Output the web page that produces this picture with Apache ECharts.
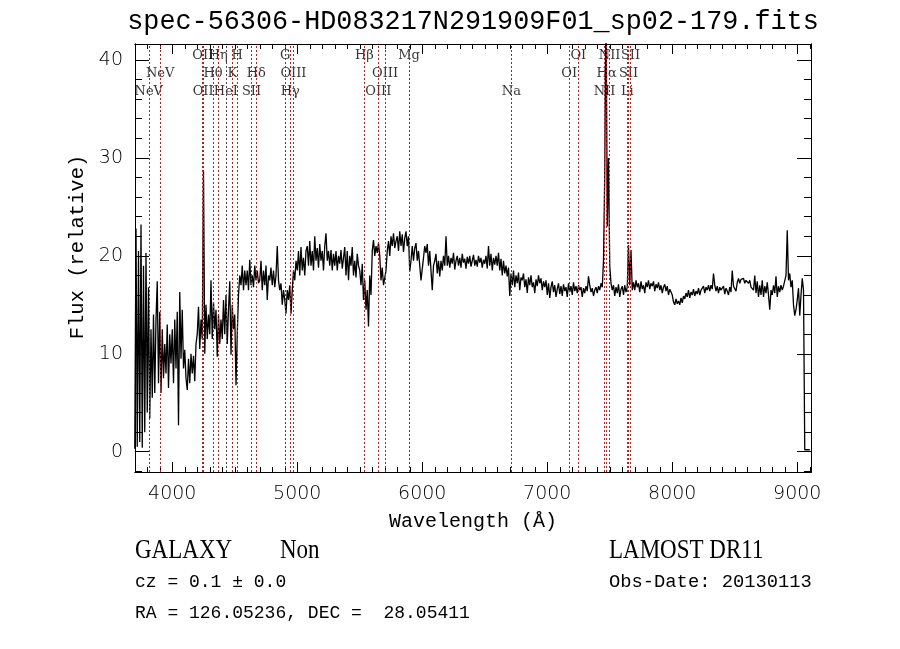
<!DOCTYPE html>
<html lang="en">
<head>
<meta charset="UTF-8">
<title>spec-56306-HD083217N291909F01_sp02-179.fits</title>
<style>
    html, body { margin: 0; padding: 0; background: #fff; }
    #chart { width: 900px; height: 649px; }
</style>
</head>
<body>
<div id="chart"></div>
<script src="https://cdn.jsdelivr.net/npm/echarts@6/dist/echarts.min.js"></script>
<script>
// flux, one value every 10 A starting at 3700 A
var waveStart = 3700;
var waveStep = 10;
var flux = [
    0.3, 22.8, 0.5, 20.5, 1.0, 23.2, 0.4, 19.0, 2.0, 20.3,      // 3700
    4.0, 16.8, 3.4, 12.5, 5.5, 14.0, 6.0, 13.5, 17.4, 7.0,      // 3800
    14.3, 6.0, 12.5, 7.5, 11.0, 8.0, 13.0, 6.5, 12.0, 9.0,      // 3900
    12.5, 7.0, 13.5, 8.5, 14.3, 2.7, 16.3, 9.5, 14.5, 8.5,      // 4000
    10.4, 7.5, 6.3, 9.5, 7.0, 10.0, 8.0, 9.8, 7.2, 11.0,        // 4100
    12.0, 14.8, 10.5, 13.5, 11.5, 28.7, 10.0, 15.0, 11.5, 14.0, // 4200
    12.0, 17.5, 11.5, 15.2, 12.5, 14.5, 9.7, 14.0, 11.0, 13.5,  // 4300
    11.5, 15.5, 12.0, 16.0, 11.0, 14.5, 17.4, 9.9, 15.0, 12.5,  // 4400
    14.0, 6.8, 12.0, 16.0, 18.0, 17.0, 19.0, 16.5, 18.5, 17.0,  // 4500
    18.5, 16.5, 19.6, 17.0, 18.0, 16.8, 19.0, 17.5, 18.5, 17.2, // 4600
    17.5, 19.5, 16.5, 18.5, 17.0, 19.0, 15.5, 18.0, 17.5, 18.8, // 4700
    17.0, 18.5, 16.8, 18.0, 21.0, 17.5, 16.5, 17.2, 15.0, 16.5, // 4800
    15.5, 14.1, 16.5, 15.5, 17.0, 14.1, 16.5, 18.5, 17.5, 19.5, // 4900
    18.5, 20.5, 18.0, 20.9, 18.5, 19.8, 18.0, 20.5, 21.0, 19.0, // 5000
    21.5, 19.0, 20.5, 18.5, 22.0, 19.5, 20.8, 18.8, 21.2, 19.5, // 5100
    20.5, 18.5, 21.0, 22.3, 19.5, 20.5, 19.0, 20.6, 18.5, 20.2, // 5200
    19.0, 20.5, 18.5, 20.0, 19.2, 20.6, 18.7, 19.8, 20.9, 18.0, // 5300
    20.5, 17.5, 20.0, 19.0, 20.9, 18.0, 19.5, 17.8, 20.2, 19.0, // 5400
    18.5, 17.0, 19.2, 15.5, 17.5, 14.5, 16.5, 12.8, 18.0, 16.0, // 5500
    20.5, 21.6, 20.0, 21.0, 20.3, 21.3, 20.0, 17.5, 18.8, 17.0, // 5600
    16.8, 18.5, 20.5, 21.5, 20.0, 22.0, 21.0, 22.3, 20.8, 21.5, // 5700
    22.0, 20.5, 22.5, 21.0, 22.2, 20.4, 21.8, 22.5, 21.0, 22.0, // 5800
    18.4, 19.5, 21.0, 19.5, 20.8, 21.3, 19.5, 20.5, 19.0, 17.5, // 5900
    17.5, 19.8, 21.0, 20.3, 21.2, 19.0, 20.5, 18.5, 16.5, 19.0, // 6000
    19.5, 20.2, 18.2, 19.5, 17.9, 19.5, 18.5, 20.0, 19.0, 22.0, // 6100
    19.0, 20.0, 18.8, 19.8, 19.2, 20.3, 18.6, 19.5, 20.0, 19.0, // 6200
    19.8, 18.8, 20.2, 19.3, 19.7, 18.7, 19.9, 19.2, 20.0, 18.9, // 6300
    19.5, 20.1, 19.0, 19.6, 18.9, 20.0, 19.3, 19.8, 18.8, 19.6, // 6400
    19.2, 20.0, 18.7, 21.0, 19.0, 20.2, 18.5, 19.8, 19.1, 20.0, // 6500
    19.0, 20.3, 18.5, 19.7, 18.0, 19.5, 18.2, 19.0, 17.9, 18.8, // 6600
    15.9, 18.2, 17.0, 18.5, 16.8, 18.0, 17.2, 18.3, 16.5, 17.8, // 6700
    17.5, 18.2, 16.8, 17.6, 16.2, 17.8, 17.0, 18.0, 16.8, 17.3, // 6800
    16.2, 17.6, 16.9, 18.0, 17.2, 17.7, 16.5, 17.4, 16.8, 17.5, // 6900
    16.0, 17.2, 15.7, 16.8, 17.4, 16.3, 17.0, 15.8, 16.6, 17.2, // 7000
    16.1, 16.9, 15.9, 17.1, 16.4, 16.8, 15.8, 17.2, 16.3, 16.9, // 7100
    16.0, 17.3, 16.4, 16.9, 16.2, 17.0, 16.5, 16.8, 15.8, 16.7, // 7200
    16.2, 16.9, 16.4, 17.9, 17.0, 16.3, 16.7, 15.9, 16.5, 16.8, // 7300
    16.2, 16.9, 16.5, 17.2, 16.8, 19.5, 28.4, 48.0, 23.0, 30.0, // 7400
    19.0, 17.2, 16.5, 17.0, 15.9, 16.8, 16.2, 17.1, 15.8, 16.6, // 7500
    16.9, 16.0, 17.0, 16.3, 16.8, 21.1, 17.0, 20.6, 16.5, 17.3, // 7600
    16.5, 17.5, 16.8, 17.2, 16.3, 17.4, 16.6, 17.0, 16.2, 17.3, // 7700
    16.8, 17.5, 16.6, 17.2, 16.9, 17.4, 16.4, 17.1, 16.7, 17.3, // 7800
    16.5, 17.0, 16.2, 16.8, 17.1, 16.4, 16.9, 16.0, 16.6, 16.3, // 7900
    16.0, 15.3, 15.0, 15.6, 15.1, 15.4, 15.0, 15.7, 15.2, 15.9, // 8000
    15.6, 16.2, 15.8, 16.5, 15.7, 16.3, 16.0, 16.6, 15.9, 16.4, // 8100
    16.1, 16.7, 16.0, 16.5, 16.3, 16.9, 16.2, 16.8, 16.5, 17.0, // 8200
    16.4, 17.0, 16.6, 18.2, 17.0, 16.4, 16.9, 16.2, 16.8, 16.5, // 8300
    16.3, 16.9, 16.1, 16.7, 16.4, 16.0, 16.8, 16.3, 18.5, 16.9, // 8400
    17.0, 16.4, 17.3, 17.7, 17.2, 17.6, 17.4, 17.7, 17.2, 17.5, // 8500
    17.6, 17.2, 17.5, 16.8, 17.0, 16.5, 18.0, 16.2, 17.4, 15.8, // 8600
    17.0, 16.0, 17.5, 15.8, 16.9, 16.2, 17.3, 16.0, 14.5, 16.5, // 8700
    16.0, 17.0, 16.2, 17.9, 15.8, 16.9, 16.3, 17.0, 16.5, 16.9, // 8800
    16.8, 18.0, 22.6, 17.5, 18.2, 16.8, 17.5, 15.0, 13.9, 14.5, // 8900
    15.5, 16.7, 13.9, 16.0, 17.7, 16.5, 0.2, 0.2, 0.2, 0.2,     // 9000
    0.2                                                          // 9100
];

// tick labels
var majorX = [4000, 5000, 6000, 7000, 8000, 9000];
var majorY = [0, 10, 20, 30, 40];

// marked lines: rest wavelength, label, label row (1 = top)
var lineNames = ['NeV', 'NeV', 'OII', 'OII', 'Hθ', 'Hη', 'HeI', 'K', 'H', 'SII', 'Hδ', 'G', 'Hγ', 'OIII',
    'Hβ', 'OIII', 'OIII', 'Mg', 'Na', 'OI', 'OI', 'NII', 'Hα', 'NII', 'Li', 'SII', 'SII'];
var lineRest = [3346.8, 3426.9, 3726.0, 3728.8, 3797.9, 3835.4, 3888.7, 3933.7, 3968.5, 4068.6, 4101.7,
    4304.4, 4340.5, 4363.2, 4861.3, 4958.9, 5006.8, 5175.3, 5894.0, 6300.3, 6363.8, 6548.1, 6562.8,
    6583.5, 6707.8, 6716.4, 6730.8];
var lineRow = [3, 2, 1, 3, 2, 1, 3, 2, 1, 3, 2, 1, 3, 2, 1, 3, 2, 1, 3, 2, 1, 3, 2, 1, 3, 2, 1];
var lineZ = 0.139;

var titleText = 'spec-56306-HD083217N291909F01_sp02-179.fits';
var xName = 'Wavelength (Å)';
var yName = 'Flux (relative)';
var objClass = 'GALAXY';
var subClass = 'Non';
var release = 'LAMOST DR11';
var czText = 'cz = 0.1 ± 0.0';
var obsText = 'Obs-Date: 20130113';
var coordText = 'RA = 126.05236, DEC =  28.05411';

// ---- layout ----
var GRID = {left: 135, top: 44, width: 676, height: 428};
var X_MIN = 3702, X_MAX = 9110;
var Y_MIN = -2.07, Y_MAX = 41.63;
var ROW_PX = {1: 56, 2: 74, 3: 92};
var RED = '#b3201f';
var GREY = '#474747';
var darkLines = ['HeI', 'G', 'Mg', 'Na'];

function rowValue(r) {
    return Y_MAX - (ROW_PX[r] - GRID.top) * (Y_MAX - Y_MIN) / GRID.height;
}

function stepValues(from, to, step) {
    var out = [];
    for (var v = from; v <= to + 1e-9; v += step) out.push(Math.round(v * 100) / 100);
    return out;
}

var minorX = stepValues(3800, 9100, 100);
var minorY = stepValues(-2, 40, 2);

var tickFont = {fontFamily: 'DejaVu Sans', fontSize: 19, fontWeight: 200, color: '#000',
    formatter: function (v) { return String(v); }};

function xAxisOf(pos, ticks, len, withLabels) {
    return {
        type: 'value', position: pos, min: X_MIN, max: X_MAX,
        axisLine: {show: true, onZero: false, lineStyle: {color: '#000', width: 1}},
        axisTick: {show: true, inside: true, length: len, customValues: ticks,
            lineStyle: {color: '#000', width: 1}},
        axisLabel: withLabels ? Object.assign({show: true, margin: 13, customValues: ticks}, tickFont) : {show: false},
        splitLine: {show: false}
    };
}

function yAxisOf(pos, ticks, len, withLabels) {
    return {
        type: 'value', position: pos, min: Y_MIN, max: Y_MAX,
        axisLine: {show: true, onZero: false, lineStyle: {color: '#000', width: 1}},
        axisTick: {show: true, inside: true, length: len, customValues: ticks,
            lineStyle: {color: '#000', width: 1}},
        axisLabel: withLabels ? Object.assign({show: true, margin: 12, customValues: ticks}, tickFont) : {show: false},
        splitLine: {show: false}
    };
}

function text(x, y, str, font, size, opts) {
    opts = opts || {};
    return {
        type: 'text', x: x, y: y, rotation: opts.rotation || 0,
        scaleY: opts.scaleY || 1, silent: true,
        style: {
            text: str, fill: '#000', fontFamily: font, fontSize: size,
            align: opts.align || 'left', textAlign: opts.align || 'left',
            verticalAlign: 'middle', textVerticalAlign: 'middle'
        }
    };
}

var spectrum = flux.map(function (f, i) { return [waveStart + i * waveStep, f]; });

var lineMarks = lineNames.map(function (n, i) {
    return {
        xAxis: lineRest[i] * (1 + lineZ),
        lineStyle: {color: darkLines.indexOf(n) >= 0 ? GREY : RED, type: [2, 2], width: 1}
    };
});

var lineLabels = lineNames.map(function (n, i) {
    return {name: n, value: [lineRest[i] * (1 + lineZ), rowValue(lineRow[i])]};
});

var chart = echarts.init(document.getElementById('chart'));
chart.setOption({
    animation: false,
    backgroundColor: '#fff',
    grid: {left: GRID.left, top: GRID.top, width: GRID.width, height: GRID.height, containLabel: false},
    xAxis: [
        xAxisOf('bottom', majorX, 10, true),
        xAxisOf('bottom', minorX, 5, false),
        xAxisOf('top', majorX, 10, false),
        xAxisOf('top', minorX, 5, false)
    ],
    yAxis: [
        yAxisOf('left', majorY, 14, true),
        yAxisOf('left', minorY, 7, false),
        yAxisOf('right', majorY, 14, false),
        yAxisOf('right', minorY, 7, false)
    ],
    series: [
        {
            type: 'scatter', xAxisIndex: 0, yAxisIndex: 0, z: 2, silent: true,
            data: lineLabels, symbolSize: 1,
            itemStyle: {color: 'rgba(0,0,0,0)'},
            label: {
                show: true, position: 'inside', color: '#000',
                fontFamily: 'DejaVu Serif', fontSize: 13,
                formatter: function (p) { return p.name; }
            },
            markLine: {symbol: 'none', silent: true, label: {show: false}, data: lineMarks}
        },
        {
            type: 'line', xAxisIndex: 0, yAxisIndex: 0, z: 3, silent: true,
            data: spectrum, showSymbol: false, symbol: 'none', clip: true,
            lineStyle: {color: '#000', width: 1.3}
        }
    ],
    graphic: [
        text(473, 22, titleText, 'Liberation Mono', 26.8, {align: 'center'}),
        text(473, 522, xName, 'Liberation Mono', 20, {align: 'center'}),
        text(78, 247, yName, 'Liberation Mono', 20.5, {align: 'center', rotation: Math.PI / 2}),
        text(135, 551, objClass, 'Liberation Serif', 23, {scaleY: 1.2}),
        text(280, 551, subClass, 'Liberation Serif', 23, {scaleY: 1.2}),
        text(609, 551, release, 'Liberation Serif', 23, {scaleY: 1.2}),
        text(135, 582, czText, 'Liberation Mono', 18),
        text(609, 582, obsText, 'Liberation Mono', 18.8),
        text(135, 613, coordText, 'Liberation Mono', 18)
    ]
});
</script>
</body>
</html>
